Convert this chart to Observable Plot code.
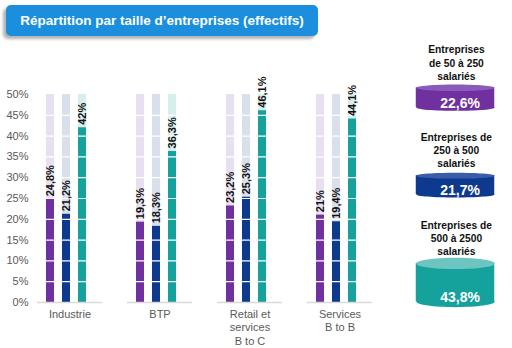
<!DOCTYPE html>
<html><head><meta charset="utf-8">
<script src="https://cdn.jsdelivr.net/npm/d3@7"></script>
<script src="https://cdn.jsdelivr.net/npm/@observablehq/plot@0.6"></script>
<style>
body{margin:0;width:512px;height:348px;overflow:hidden;background:#fff;font-family:"Liberation Sans",Arial,sans-serif;position:relative}
#title{position:absolute;left:6px;top:5px;width:312px;height:31px;background:#1b8fdd;border-radius:5px;box-shadow:-3px 3px 3px rgba(0,0,0,.3);color:#fff;font-weight:bold;font-size:13.5px;display:flex;align-items:center;justify-content:center}
#chart{position:absolute;left:0;top:40px}
#legend{position:absolute;left:398px;top:40px}
</style></head><body>
<div id="title">Répartition par taille d’entreprises (effectifs)</div>
<div id="chart"></div><div id="legend"></div>
<script>
// ---- data ----
const categories = ["Industrie", "BTP", "Retail et\nservices\nB to C", "Services\nB to B"];
const series = ["50 à 250", "250 à 500", "500 à 2500"];
const values50to250 = [24.8, 19.3, 23.2, 21];
const values250to500 = [21.2, 18.3, 25.3, 19.4];
const values500to2500 = [42, 36.3, 46.1, 44.1];
const yTicks = [0, 5, 10, 15, 20, 25, 30, 35, 40, 45, 50];
const segmentBreaks = [5, 10, 15, 20, 25, 30, 35, 40, 45];
const backgroundMax = 50;
const legendTitles = ["Entreprises\nde 50 à 250\nsalariés", "Entreprises de\n250 à 500\nsalariés", "Entreprises de\n500 à 2500\nsalariés"];
const legendValues = [22.6, 21.7, 43.8];

// ---- styles ----
const barColors = {"50 à 250": "#7030a0", "250 à 500": "#0d3a8e", "500 à 2500": "#15a29d"};
const bgColors = {"50 à 250": "#e7e0f0", "250 à 500": "#d9e0ec", "500 à 2500": "#d6efed"};
const topColors = {"50 à 250": "#8a5cba", "250 à 500": "#3a5ca9", "500 à 2500": "#6cc5c1"};
const ellipseRy = {"50 à 250": 3.6, "250 à 500": 3.2, "500 à 2500": 6};
const font = "'Liberation Sans', Arial, sans-serif";

const seriesValues = [values50to250, values250to500, values500to2500];
const data = categories.flatMap((c, i) => series.map((s, j) => ({category: c, series: s, value: seriesValues[j][i]})));
const bg = data.map(d => ({category: d.category, series: d.series, value: backgroundMax}));
const fmt = v => String(v).replace(".", ",") + "%";

const chart = Plot.plot({
  width: 512, height: 308,
  marginLeft: 37, marginRight: 140, marginTop: 54, marginBottom: 46,
  style: {fontFamily: font, fontSize: "11px", background: "transparent", overflow: "visible"},
  fx: {domain: categories, paddingInner: 0.278, paddingOuter: 0, label: null},
  x: {domain: series, paddingInner: 0.515, paddingOuter: 0.727, align: 0.375, axis: null},
  y: {domain: [0, 50], label: null},
  color: {type: "identity"},
  marks: [
    Plot.barY(bg, {fx: "category", x: "series", y: "value", fill: d => bgColors[d.series]}),
    Plot.barY(data, {fx: "category", x: "series", y: "value", fill: d => barColors[d.series]}),
    Plot.ruleY(segmentBreaks, {stroke: "#fff", strokeWidth: 1.2}),
    Plot.ruleY([0], {stroke: "#d9d9d9", strokeWidth: 1.5}),
    Plot.axisY({ticks: yTicks, tickFormat: d => d + "%", tickSize: 0, tickPadding: 9, color: "#595959", fontSize: 11, label: null}),
    Plot.axisFx({anchor: "bottom", tickSize: 0, tickPadding: 6, color: "#595959", fontSize: 11, lineHeight: 1.22, label: null}),
    Plot.text(data, {fx: "category", x: "series", y: "value", text: d => fmt(d.value), rotate: -90, textAnchor: "start", dy: -3, fontWeight: "bold", fontSize: 11, fill: "#111"})
  ]
});
document.getElementById("chart").append(chart);

const ellipse = {
  draw(ctx, size) {
    const ry = Math.sqrt(size / Math.PI), rx = 42, k = 0.5523;
    ctx.moveTo(rx, 0);
    ctx.bezierCurveTo(rx, k * ry, k * rx, ry, 0, ry);
    ctx.bezierCurveTo(-k * rx, ry, -rx, k * ry, -rx, 0);
    ctx.bezierCurveTo(-rx, -k * ry, -k * rx, -ry, 0, -ry);
    ctx.bezierCurveTo(k * rx, -ry, rx, -k * ry, rx, 0);
    ctx.closePath();
  }
};

const legendData = series.map((s, i) => ({series: s, title: legendTitles[i], value: legendValues[i]}));
const legend = Plot.plot({
  width: 122, height: 284, margin: 0,
  style: {fontFamily: font, background: "transparent", overflow: "visible"},
  fy: {domain: series, padding: 0, axis: null},
  y: {domain: [-53.4, 47.7], reverse: true, axis: null},
  r: {type: "identity"},
  color: {type: "identity"},
  marks: [
    Plot.text(legendData, {fy: "series", text: "title", frameAnchor: "top", lineAnchor: "top", dy: 3, dx: 1, fontWeight: "bold", fontSize: 11, lineHeight: 1.27, fill: "#111"}),
    Plot.dot(legendData, {fy: "series", y: "value", r: d => ellipseRy[d.series], symbol: ellipse, fill: d => barColors[d.series], stroke: "none"}),
    Plot.rect(legendData, {fy: "series", y1: 0, y2: "value", insetLeft: 19, insetRight: 19, fill: d => barColors[d.series]}),
    Plot.dot(legendData, {fy: "series", y: 0, r: d => ellipseRy[d.series], symbol: ellipse, fill: d => topColors[d.series], stroke: "none"}),
    Plot.text(legendData, {fy: "series", y: "value", text: d => fmt(d.value), dy: -4, dx: 5, fontWeight: "bold", fontSize: 15, fill: "#fff"})
  ]
});
document.getElementById("legend").append(legend);
</script>
</body></html>
